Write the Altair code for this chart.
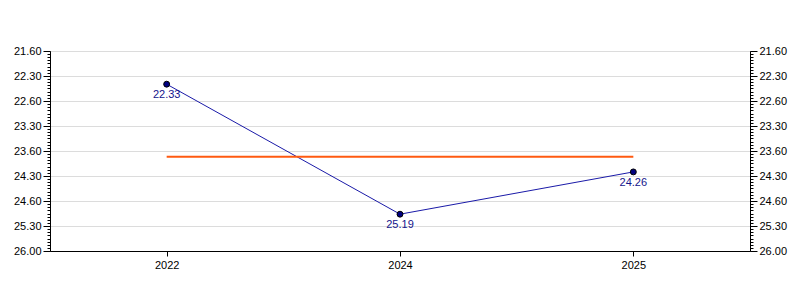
import altair as alt
import pandas as pd

years = ["2022", "2024", "2025"]
values = [22.33, 25.19, 24.26]
major_ticks = [21.60, 22.15, 22.70, 23.25, 23.80, 24.35, 24.90, 25.45, 26.00]
major_labels = ["21.60", "22.30", "22.60", "23.30", "23.60", "24.30", "24.60", "25.30", "26.00"]
y_min, y_max = 21.60, 26.00
major_step = 0.55
minor_div = 8

df = pd.DataFrame({"year": years, "value": values, "label": [f"{v:.2f}" for v in values]})

all_ticks = [round(y_min + i * major_step / minor_div, 5) for i in range((len(major_ticks) - 1) * minor_div + 1)]
idx_expr = f"round((datum.value - {y_min}) / {major_step})"
is_major = f"abs((datum.value - {y_min}) / {major_step} - {idx_expr}) < 0.01"
labels_js = "[" + ",".join(f"'{l}'" for l in major_labels) + "]"
label_expr = f"({is_major}) ? {labels_js}[{idx_expr}] : ''"

yscale = alt.Scale(domain=[y_min, y_max], reverse=True, nice=False, zero=False)

def yaxis(orient, grid):
    return alt.Axis(
        orient=orient, values=all_ticks, labelExpr=label_expr, title=None,
        grid=grid, gridColor="#dcdcdc",
        gridOpacity=alt.condition(is_major, alt.value(1), alt.value(0)),
        tickSize=alt.condition(is_major, alt.value(7), alt.value(3)),
        tickColor="black", domainColor="black",
        labelFont="Liberation Sans", labelFontSize=11, labelColor="black",
        labelPadding=2, labelFlush=False, labelOverlap=False,
    )

xenc = alt.X("year:N", scale=alt.Scale(type="point", padding=0.5),
             axis=alt.Axis(title=None, labelAngle=0, tickSize=5, tickColor="black",
                           domainColor="black", labelFont="Liberation Sans",
                           labelFontSize=11, labelColor="black", labelPadding=3, grid=False))

base = alt.Chart(df)

line = base.mark_line(color="#1a1aa8", strokeWidth=1).encode(
    x=xenc, y=alt.Y("value:Q", scale=yscale, axis=yaxis("left", True)))

avg = base.transform_joinaggregate(avg="mean(value)").mark_line(
    color="#ff5a10", strokeWidth=2).encode(
    x=xenc, y=alt.Y("avg:Q", scale=yscale, axis=yaxis("right", False)))

pts = base.mark_point(filled=True, size=35, color="#000080", stroke="black",
                      strokeWidth=1, opacity=1).encode(
    x=xenc, y=alt.Y("value:Q", scale=yscale, axis=None))

txt = base.mark_text(baseline="top", dy=5, font="Liberation Sans", fontSize=11,
                     color="#14148c").encode(
    x=xenc, y=alt.Y("value:Q", scale=yscale, axis=None), text="label:N")

chart = alt.layer(line, avg, pts, txt).resolve_scale(y="shared").resolve_axis(
    y="independent").properties(
    width=700, height=200,
    autosize=alt.AutoSizeParams(type="none"),
    padding={"left": 50, "top": 51, "right": 50, "bottom": 49},
    background="white",
).configure_view(stroke="black", strokeWidth=1)

chart.save("out.html", embed_options={"renderer": "svg", "actions": False})
